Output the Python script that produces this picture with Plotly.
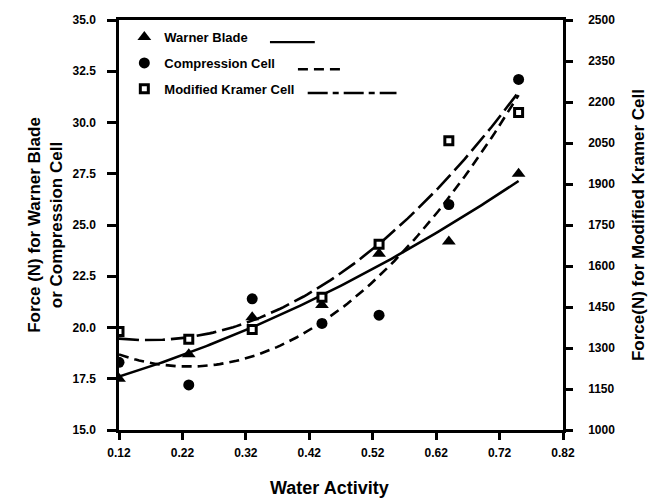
import numpy as np
import plotly.graph_objects as go

water_activity = [0.12, 0.23, 0.33, 0.44, 0.53, 0.64, 0.75]
warner_blade = [17.5, 18.7, 20.5, 21.1, 23.6, 24.2, 27.5]
compression_cell = [18.3, 17.2, 21.4, 20.2, 20.6, 26.0, 32.1]
kramer_cell = [1360, 1332, 1368, 1486, 1680, 2058, 2162]

x_ticks = [0.12, 0.22, 0.32, 0.42, 0.52, 0.62, 0.72, 0.82]
series_names = ["Warner Blade", "Compression Cell", "Modified Kramer Cell"]

FONT = "Liberation Sans, Arial, sans-serif"

xs = np.linspace(min(water_activity), max(water_activity), 120)
def fit(y):
    c = np.polyfit(water_activity, y, 2)
    return np.polyval(c, xs)

fig = go.Figure()

# fitted curves
fig.add_trace(go.Scatter(x=xs, y=fit(warner_blade), mode="lines",
                         line=dict(color="black", width=2.6), showlegend=False, hoverinfo="skip"))
fig.add_trace(go.Scatter(x=xs, y=fit(compression_cell), mode="lines",
                         line=dict(color="black", width=2.6, dash="10px,6px"), showlegend=False, hoverinfo="skip"))
fig.add_trace(go.Scatter(x=xs, y=fit(kramer_cell), mode="lines", yaxis="y2",
                         line=dict(color="black", width=2.6, dash="20px,6px"), showlegend=False, hoverinfo="skip"))

# data points
fig.add_trace(go.Scatter(x=water_activity, y=warner_blade, mode="markers", name=series_names[0],
                         legendgroup="a",
                         marker=dict(symbol="triangle-up", size=12, color="black")))
fig.add_trace(go.Scatter(x=water_activity, y=compression_cell, mode="markers", name=series_names[1],
                         legendgroup="b",
                         marker=dict(symbol="circle", size=11, color="black")))
fig.add_trace(go.Scatter(x=water_activity, y=kramer_cell, mode="markers", name=series_names[2],
                         legendgroup="c", yaxis="y2",
                         marker=dict(symbol="square", size=8, color="white",
                                     line=dict(color="black", width=3))))

# legend line samples (decorative, paper coords)
samples = [
    (0.340, 0.441, 0.946, None),
    (0.403, 0.506, 0.880, "10px,6px"),
    (0.425, 0.625, 0.822, "20px,5px,6px,5px"),
]
for x0, x1, yy, dash in samples:
    fig.add_shape(type="line", xref="paper", yref="paper", x0=x0, x1=x1, y0=yy, y1=yy,
                  line=dict(color="black", width=2.4, dash=dash))

axis_common = dict(showgrid=False, zeroline=False, showline=True, linecolor="black", linewidth=2.5,
                   ticks="outside", tickcolor="black", tickwidth=2.5,
                   tickfont=dict(family=FONT, size=12, color="black", weight="bold"))

fig.add_annotation(text="Water Activity", xref="paper", yref="paper", x=0.475, y=-0.1415,
                   xanchor="center", yanchor="middle", showarrow=False,
                   font=dict(family=FONT, size=18, color="black", weight="bold"))

fig.update_layout(
    width=662, height=499,
    margin=dict(l=119, r=99, t=20, b=69),
    plot_bgcolor="white", paper_bgcolor="white",
    font=dict(family=FONT, color="black"),
    xaxis=dict(range=[0.12, 0.82], tickvals=x_ticks, ticktext=[f"{v:.2f}" for v in x_ticks],
               mirror=True, ticklen=7, ticklabelstandoff=3,
               **axis_common),
    yaxis=dict(range=[15, 35], dtick=2.5, tick0=15, tickformat=".1f", ticklen=9, ticklabelstandoff=9,
               title=dict(text="Force (N) for Warner Blade<br>or Compression Cell",
                          font=dict(family=FONT, size=17, weight="bold"), standoff=6),
               **axis_common),
    yaxis2=dict(range=[1000, 2500], dtick=150, tick0=1000, overlaying="y", side="right",
                ticklen=7, ticklabelstandoff=13,
                title=dict(text="Force(N) for Modified Kramer Cell",
                           font=dict(family=FONT, size=17, weight="bold"), standoff=18),
                **axis_common),
    legend=dict(x=0.012, y=0.995, xanchor="left", yanchor="top", bgcolor="rgba(0,0,0,0)",
                font=dict(family=FONT, size=13, color="black", weight="bold"),
                tracegroupgap=6, itemwidth=30),
    showlegend=True,
)

fig.write_html("out.html")
